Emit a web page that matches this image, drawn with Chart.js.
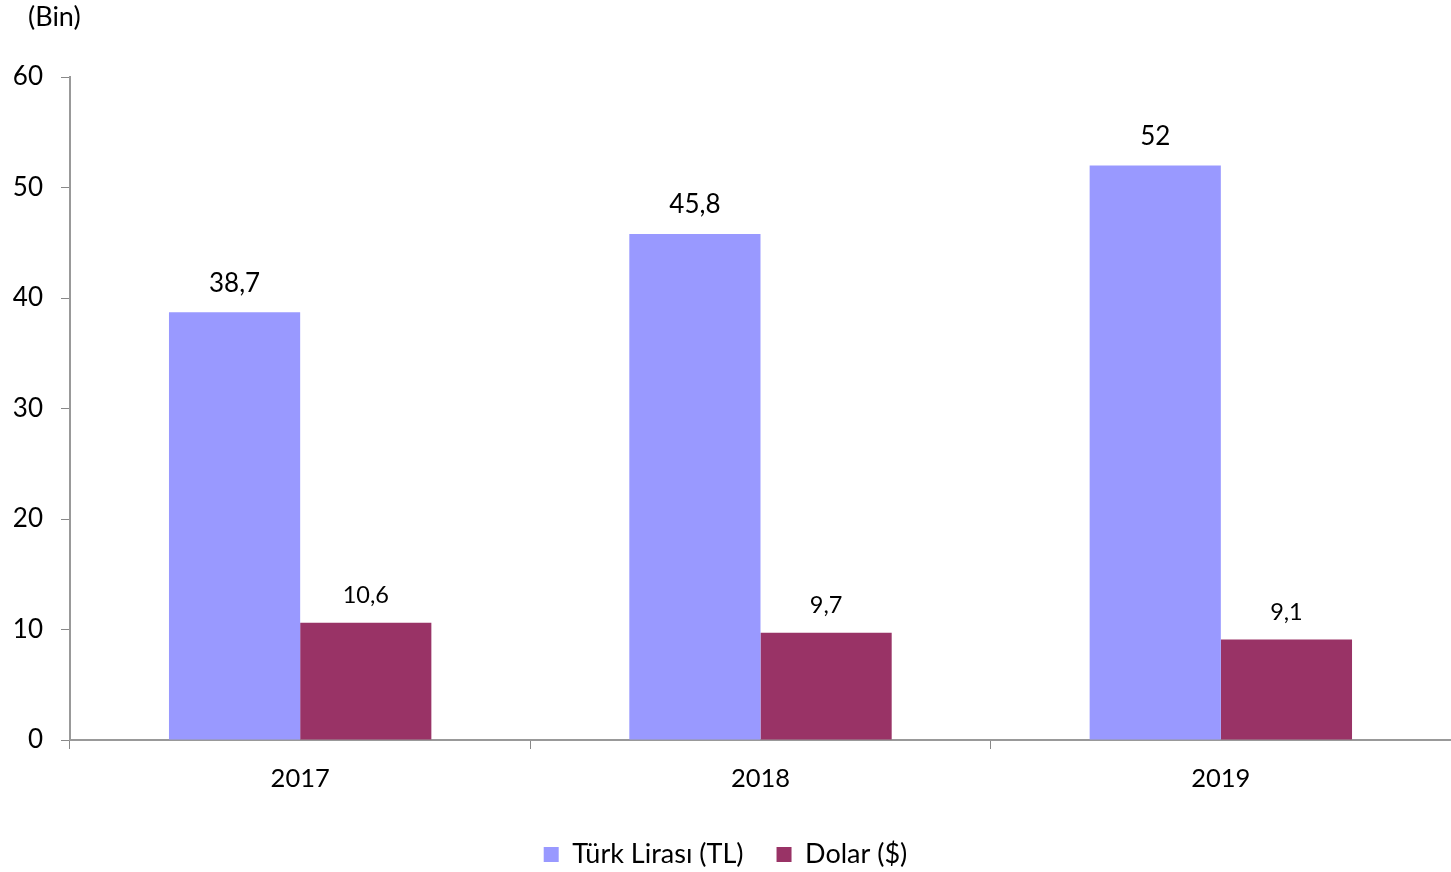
<!DOCTYPE html>
<html>
<head>
<meta charset="utf-8">
<script src="https://cdn.jsdelivr.net/npm/chart.js@4/dist/chart.umd.min.js"></script>
<style>
html,body{margin:0;padding:0;background:#fff;}
#wrap{width:1451px;height:872px;position:relative;}
</style>
</head>
<body>
<div id="wrap"><canvas id="c" width="1451" height="872"></canvas></div>
<script>
const categories = ["2017", "2018", "2019"];
const tlValues = [38.7, 45.8, 52];
const usdValues = [10.6, 9.7, 9.1];
const seriesNames = ["Türk Lirası (TL)", "Dolar ($)"];
const yTicks = [0, 10, 20, 30, 40, 50, 60];
const unitLabel = "(Bin)";

const FONT = "Lato, 'Open Sans', sans-serif";

const labelPlugin = {
  id: 'valueLabels',
  afterInit(chart) {
    const lg = chart.legend;
    if (lg) {
      const orig = lg.fit.bind(lg);
      lg.fit = function () { orig(); this.height = 63; };
    }
  },
  afterDatasetsDraw(chart) {
    const ctx = chart.ctx;
    ctx.save();
    ctx.fillStyle = '#000';
    ctx.textAlign = 'center';
    ctx.textBaseline = 'middle';
    chart.data.datasets.forEach((ds, i) => {
      const meta = chart.getDatasetMeta(i);
      ctx.font = (i === 0 ? '26px ' : '23.5px ') + FONT;
      meta.data.forEach((bar, j) => {
        const txt = String(ds.data[j]).replace('.', ',');
        ctx.fillText(txt, bar.x, bar.y - (i === 0 ? 29 : 27));
      });
    });
    ctx.font = '27px ' + FONT;
    ctx.textAlign = 'left';
    ctx.fillText(unitLabel, 28, 17);
    ctx.restore();
  }
};

new Chart(document.getElementById('c'), {
  type: 'bar',
  data: {
    labels: categories,
    datasets: [
      { label: seriesNames[0], data: tlValues, backgroundColor: '#9999FF', barPercentage: 1, categoryPercentage: 0.57 },
      { label: seriesNames[1], data: usdValues, backgroundColor: '#993366', barPercentage: 1, categoryPercentage: 0.57 }
    ]
  },
  options: {
    responsive: false,
    animation: false,
    layout: { padding: { top: 77, right: 0, left: 0, bottom: 1 } },
    plugins: {
      legend: {
        position: 'bottom',
        labels: {
          boxWidth: 15, boxHeight: 15, padding: 33,
          color: '#000',
          font: { size: 27, family: FONT }
        }
      },
      tooltip: { enabled: false }
    },
    scales: {
      x: {
        offset: true,
        grid: { offset: true, drawOnChartArea: false, color: '#888', tickLength: 9 },
        border: { color: '#999', width: 2 },
        ticks: { color: '#000', padding: 14, font: { size: 25.5, family: FONT } },
        afterFit(s) { s.height = 68; }
      },
      y: {
        min: 0, max: 60,
        afterBuildTicks(s) { s.ticks = yTicks.map(v => ({ value: v })); },
        grid: { drawOnChartArea: false, color: '#888', tickLength: 9 },
        border: { color: '#999', width: 2 },
        ticks: { color: '#000', padding: 18, font: { size: 26, family: FONT } },
        afterFit(s) { s.width = 70; }
      }
    }
  },
  plugins: [labelPlugin]
});
</script>
</body>
</html>
